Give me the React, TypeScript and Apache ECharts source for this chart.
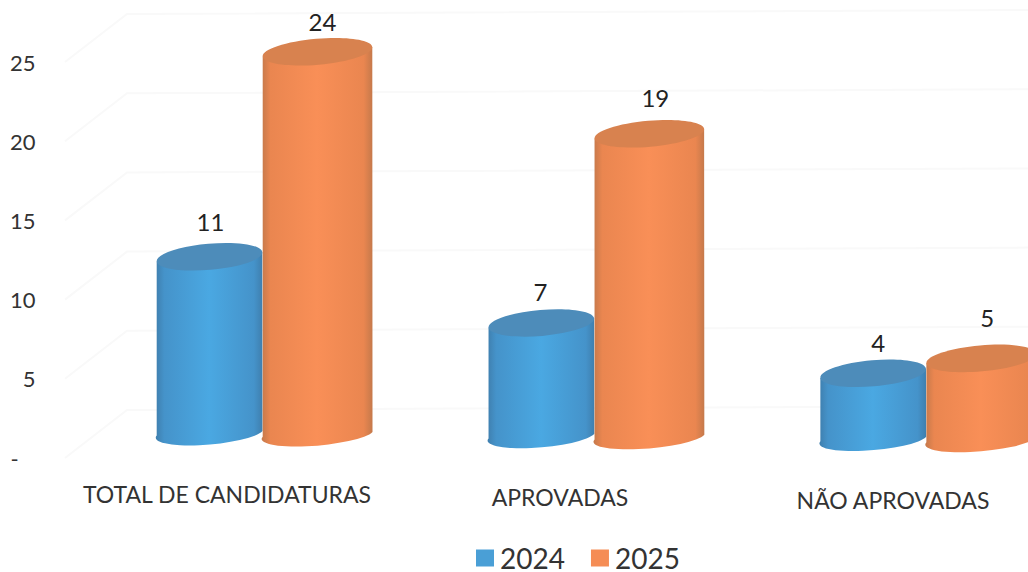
import React, { useEffect, useRef } from "react";
import * as echarts from "echarts";

const categories = ["TOTAL DE CANDIDATURAS", "APROVADAS", "NÃO APROVADAS"];
const values2024 = [11, 7, 4];
const values2025 = [24, 19, 5];
const tickValues = [0, 5, 10, 15, 20, 25];
const tickLabels: Record<number, string> = { 0: "-\u00A0\u00A0\u00A0", 5: "5", 10: "10", 15: "15", 20: "20", 25: "25" };

const FONT = "Lato, 'Open Sans', sans-serif";
const TEXT = "#333333";
const TILT = (-5 * Math.PI) / 180;
const labelDrop = [0, 3, 6];

type Look = {
  side: number;
  halfWidth: number;
  edge: string;
  mid: string;
  centre: string;
  top: string;
  labelDx: number[];
  labelLift: number[];
};
const blue: Look = {
  side: -1,
  halfWidth: 53,
  edge: "#3f7fae",
  mid: "#4593ca",
  centre: "#4aa8e2",
  top: "#4d8cba",
  labelDx: [1, -1, 5],
  labelLift: [4, 0, 0],
};
const orange: Look = {
  side: 1,
  halfWidth: 55,
  edge: "#c5794b",
  mid: "#ea8650",
  centre: "#f98f57",
  top: "#d8824f",
  labelDx: [5, 6, 6],
  labelLift: [-1, 5, 10],
};

function cylinder(look: Look) {
  return (params: any, api: any) => {
    const cat = api.value(0);
    const base = api.coord([cat, 0]);
    const head = api.coord([cat, api.value(1)]);
    const seam = base[0] + 35.5 - (base[0] - 227) * 0.0035;
    const cx = seam + look.side * look.halfWidth;
    const drop = -27 + (cx - 209) * 0.0085;
    const yBase = base[1] + drop;
    const yTop = head[1] + drop;
    const a = look.halfWidth;
    const dx = a * Math.cos(TILT);
    const dy = a * Math.sin(TILT);
    const rot = (TILT * 180) / Math.PI;
    const body =
      `M${cx - dx} ${yTop - dy}L${cx - dx} ${yBase - dy}` +
      `A${a} 11 ${rot} 0 0 ${cx + dx} ${yBase + dy}` +
      `L${cx + dx} ${yTop + dy}Z`;
    return {
      type: "group",
      children: [
        {
          type: "path",
          shape: { pathData: body },
          style: {
            fill: new echarts.graphic.LinearGradient(0, 0, 1, 0, [
              { offset: 0, color: look.edge },
              { offset: 0.08, color: look.mid },
              { offset: 0.5, color: look.centre },
              { offset: 0.92, color: look.mid },
              { offset: 1, color: look.edge },
            ]),
          },
        },
        {
          type: "ellipse",
          shape: { cx: 0, cy: 0, rx: a, ry: 13 },
          x: cx,
          y: yTop,
          rotation: -TILT,
          style: { fill: look.top },
        },
        {
          type: "text",
          x: cx + look.labelDx[params.dataIndex],
          y: yTop - 31 - look.labelLift[params.dataIndex],
          style: {
            text: String(api.value(1)),
            fill: "#222222",
            font: `24px ${FONT}`,
            align: "center",
            verticalAlign: "middle",
          },
        },
      ],
    };
  };
}

function backWall(params: any, api: any) {
  const y = api.coord([0, api.value(1)])[1];
  return {
    type: "polyline",
    shape: { points: [[65, y], [127, y - 48], [1028, y - 52]] },
    style: { stroke: "#f9f9f9", fill: "none", lineWidth: 2 },
  };
}

export default function App() {
  const ref = useRef<HTMLDivElement>(null);
  useEffect(() => {
    const chart = echarts.init(ref.current!, null, { renderer: "svg" });
    chart.setOption({
      animation: false,
      backgroundColor: "#ffffff",
      grid: { left: 60.5, top: 62, width: 999, height: 396, outerBoundsMode: "none" },
      legend: {
        data: ["2024", "2025"],
        left: 471,
        top: 539,
        icon: "rect",
        itemWidth: 18,
        itemHeight: 17,
        itemGap: 26,
        textStyle: { color: TEXT, fontFamily: FONT, fontSize: 28, lineHeight: 24, padding: [0, 0, 0, 1] },
      },
      xAxis: {
        type: "category",
        data: categories.map((value, i) => ({ value, textStyle: { padding: [labelDrop[i], 0, 0, 0] } })),
        axisLine: { show: false },
        axisTick: { show: false },
        axisLabel: { color: TEXT, fontFamily: FONT, fontSize: 23, margin: 24, interval: 0 },
      },
      yAxis: {
        type: "value",
        min: 0,
        max: 25,
        interval: 5,
        axisLine: { show: false },
        axisTick: { show: false },
        splitLine: { show: false },
        axisLabel: {
          color: TEXT,
          fontFamily: FONT,
          fontSize: 22,
          margin: 25,
          formatter: (v: number) => tickLabels[v],
        },
      },
      series: [
        {
          type: "custom",
          name: "wall",
          silent: true,
          renderItem: backWall,
          data: tickValues.map((v) => [0, v]),
        },
        {
          type: "custom",
          name: "2024",
          itemStyle: { color: "#4a9fd6" },
          renderItem: cylinder(blue),
          encode: { x: 0, y: 1 },
          data: values2024.map((v, i) => [i, v]),
        },
        {
          type: "custom",
          name: "2025",
          itemStyle: { color: "#f58d55" },
          renderItem: cylinder(orange),
          encode: { x: 0, y: 1 },
          data: values2025.map((v, i) => [i, v]),
        },
      ],
    });
    return () => chart.dispose();
  }, []);
  return <div ref={ref} style={{ position: "fixed", left: 0, top: 0, width: 1028, height: 572 }} />;
}
